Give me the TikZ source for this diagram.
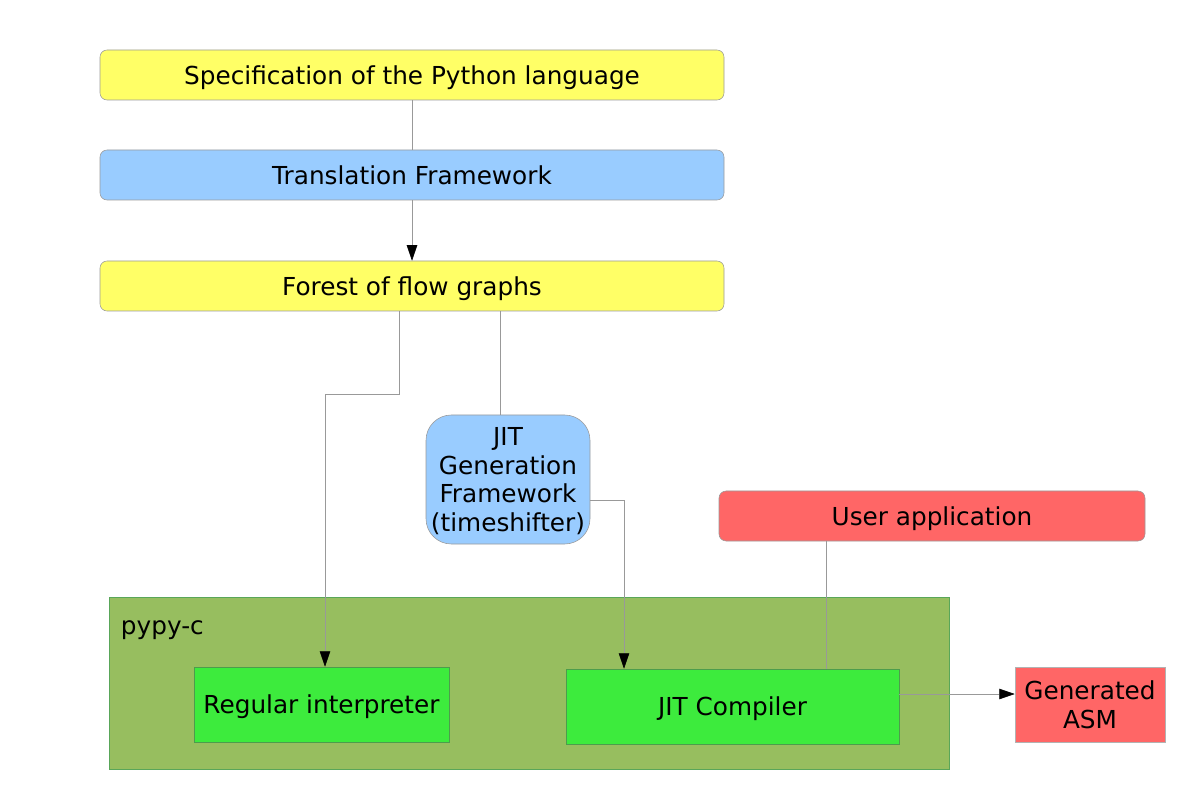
\documentclass[tikz,border=0pt]{standalone}
\usepackage{fontspec}
\setmainfont{DejaVu Sans}
\usepackage{xcolor}
\usetikzlibrary{arrows.meta}
\definecolor{specyellow}{HTML}{FFFF66}
\definecolor{frameblue}{HTML}{99CCFF}
\definecolor{userred}{HTML}{FF6666}
\definecolor{pypygreen}{HTML}{97BE5F}
\definecolor{compgreen}{HTML}{3DEB3D}

\begin{document}
\begin{tikzpicture}[
  block/.style={draw=gray!80, thin, rounded corners=5pt, minimum width=15.6cm,
    minimum height=1.25cm, align=center, inner sep=0pt, text depth=0pt},
  flat/.style={draw=green!45!black!70, thin, minimum height=1.875cm,
    align=center, inner sep=0pt, fill=compgreen, text depth=0pt},
  arrow/.style={-{Triangle[length=11pt, width=7.5pt, color=black]}, gray!80, thin},
  link/.style={gray!80, thin},
  every node/.style={font=\fontsize{17.6}{20.2}\selectfont}
]
\useasboundingbox (0,0) rectangle (30,20);

% Blocchi di traduzione
\node[block, fill=specyellow] (spec) at (10.3,18.125) {Specification of the Python language};
\node[block, fill=frameblue] (trans) at (10.3,15.625) {Translation Framework};
\node[block, fill=specyellow] (forest) at (10.3,12.85) {Forest of flow graphs};

\node[block, fill=frameblue, minimum width=4.1cm, minimum height=3.225cm,
  rounded corners=18pt] (jitgen) at (12.7,8.0125) {JIT\\Generation\\Framework\\(timeshifter)};
\node[block, fill=userred, minimum width=10.65cm] (user) at (23.3,7.1) {User application};

% Contenitore pypy-c
\draw[gray!70!green, thin, fill=pypygreen] (2.725,0.775) rectangle (23.725,5.075);
\node[anchor=west] (pypyc) at (2.9,4.25) {pypy-c};

\node[flat, minimum width=6.375cm] (regular) at (8.0375,2.3875) {Regular interpreter};
\node[flat, minimum width=8.325cm] (jitc) at (18.3125,2.3375) {JIT Compiler};
\node[flat, draw=gray!60, fill=userred, minimum width=3.75cm] (asm) at (27.25,2.3875) {Generated\\ASM};

\draw[link] (spec) -- (trans);
\draw[arrow] (trans) -- (forest);
\draw[arrow] ([xshift=-0.325cm]forest.south) -- ++(0,-2.075) -| ([xshift=0.0875cm]regular.north);
\draw[link] ([xshift=-0.2cm]jitgen.north) -- ([xshift=-0.2cm]jitgen.north |- forest.south);
\draw[arrow] ([yshift=-0.5125cm]jitgen.east) -| ([xshift=-2.7125cm]jitc.north);
\draw[link] ([xshift=-2.65cm]user.south) -- ([xshift=-2.65cm]user.south |- jitc.north);
\draw[arrow] ([yshift=0.3125cm]jitc.east) -- ([yshift=0.3125cm]jitc.east -| asm.west);

\end{tikzpicture}
\end{document}
